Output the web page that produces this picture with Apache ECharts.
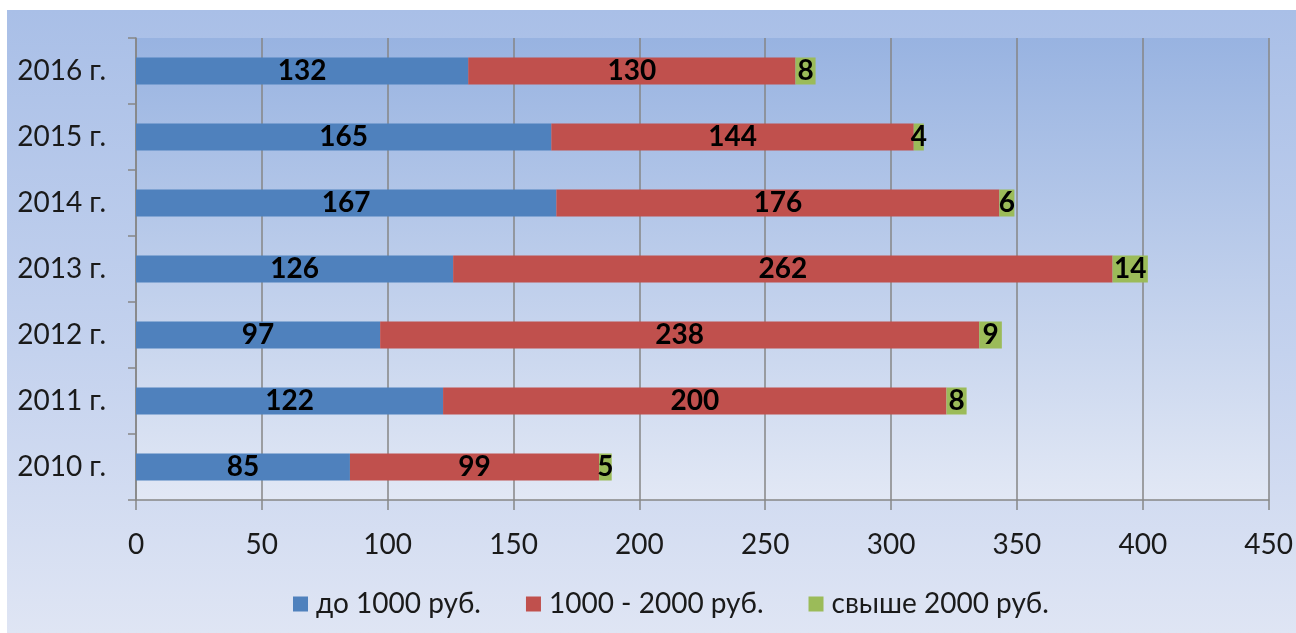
<!DOCTYPE html>
<html>
<head>
<meta charset="utf-8">
<script src="https://cdn.jsdelivr.net/npm/echarts@6/dist/echarts.min.js"></script>
<style>
  html, body { margin: 0; padding: 0; background: #ffffff; }
  #chart { width: 1296px; height: 633px; }
</style>
</head>
<body>
<div id="chart"></div>
<script>
// Categories (bottom to top on the value axis)
const years = ['2010 г.', '2011 г.', '2012 г.', '2013 г.', '2014 г.', '2015 г.', '2016 г.'];

// Counts per price band
const upTo1000 = [85, 122, 97, 126, 167, 165, 132];
const from1000to2000 = [99, 200, 238, 262, 176, 144, 130];
const over2000 = [5, 8, 9, 14, 6, 4, 8];

const seriesNames = ['до 1000 руб.', '1000 - 2000 руб.', 'свыше 2000 руб.'];
const seriesColors = ['#4f81bd', '#c0504d', '#9bbb59'];

const FONT = 'Lato, "Open Sans", sans-serif';

const chart = echarts.init(document.getElementById('chart'), null, { renderer: 'canvas' });

const labelStyle = {
  show: true,
  position: 'inside',
  color: '#000000',
  fontFamily: FONT,
  fontWeight: 'bold',
  fontSize: 28
};

function barSeries(name, data, color) {
  return {
    name: name,
    type: 'bar',
    stack: 'total',
    data: data,
    barWidth: 27,
    itemStyle: { color: color },
    label: labelStyle,
    emphasis: { disabled: true }
  };
}

chart.setOption({
  animation: false,
  graphic: [{
    type: 'rect',
    z: -10,
    silent: true,
    shape: { x: 7, y: 10, width: 1289, height: 623 },
    style: {
      fill: new echarts.graphic.LinearGradient(0, 0, 0, 1, [
        { offset: 0, color: '#a9bfe7' },
        { offset: 0.55, color: '#c4d2ee' },
        { offset: 1, color: '#dfe5f4' }
      ])
    }
  }],
  grid: {
    left: 136,
    right: 27,
    top: 38,
    bottom: 133,
    show: true,
    borderWidth: 0,
    backgroundColor: new echarts.graphic.LinearGradient(0, 0, 0, 1, [
      { offset: 0, color: '#98b3e1' },
      { offset: 1, color: '#e2e8f5' }
    ])
  },
  legend: {
    bottom: 10,
    left: 288,
    itemWidth: 15,
    itemHeight: 15,
    itemGap: 45,
    icon: 'rect',
    textStyle: { fontFamily: FONT, fontSize: 28, color: '#1a1a1a', padding: [0, 0, 0, 3] },
    data: seriesNames
  },
  xAxis: {
    type: 'value',
    min: 0,
    max: 450,
    interval: 50,
    axisLine: { show: true, lineStyle: { color: '#868686', width: 1.5 } },
    axisTick: { show: true, length: 10, lineStyle: { color: '#868686', width: 1.5 } },
    splitLine: { show: true, lineStyle: { color: '#868686', width: 1.5 } },
    axisLabel: { fontFamily: FONT, fontSize: 28, color: '#1a1a1a', margin: 31 }
  },
  yAxis: {
    type: 'category',
    data: years,
    axisLine: { show: true, lineStyle: { color: '#868686', width: 1.5 } },
    axisTick: { show: true, length: 8, lineStyle: { color: '#868686', width: 1.5 } },
    axisLabel: { fontFamily: FONT, fontSize: 28, color: '#1a1a1a', margin: 30 }
  },
  series: [
    barSeries(seriesNames[0], upTo1000, seriesColors[0]),
    barSeries(seriesNames[1], from1000to2000, seriesColors[1]),
    barSeries(seriesNames[2], over2000, seriesColors[2])
  ]
});
</script>
</body>
</html>
